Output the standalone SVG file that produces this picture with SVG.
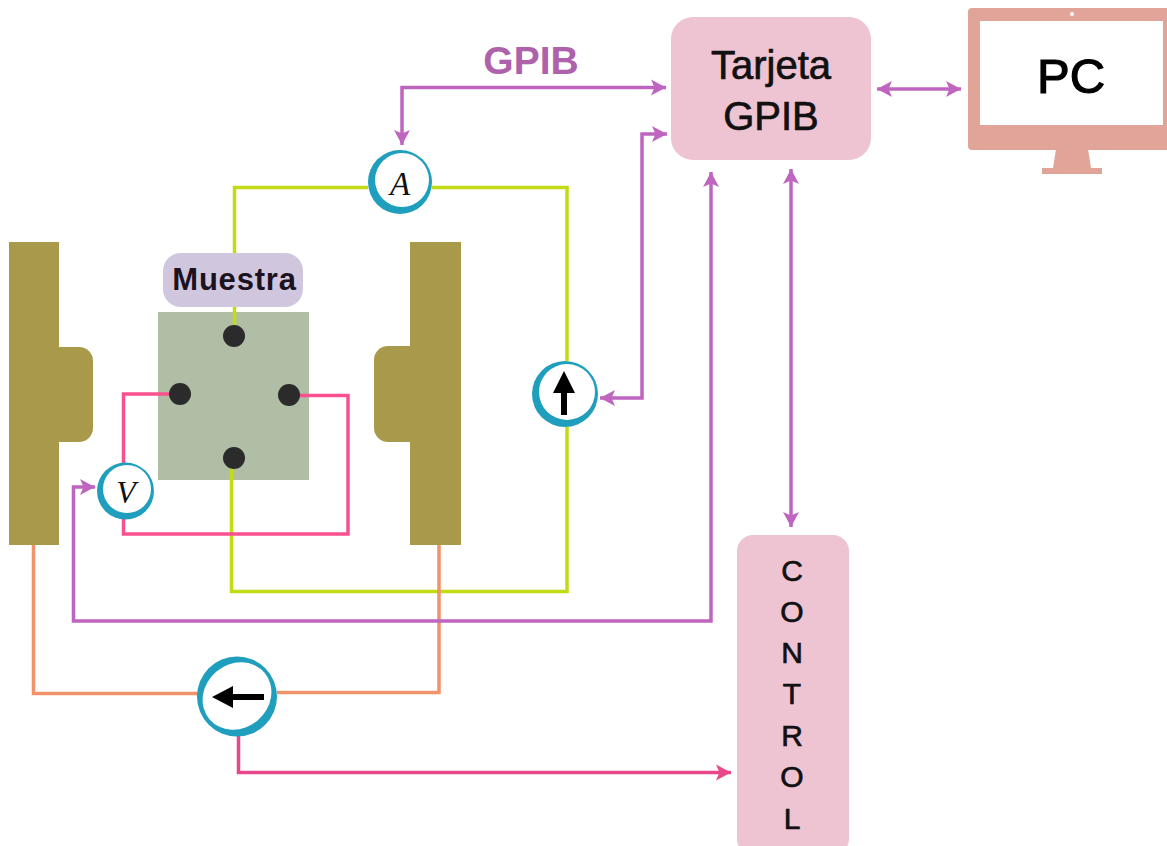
<svg xmlns="http://www.w3.org/2000/svg" width="1167" height="846" viewBox="0 0 1167 846">
<style>
.w{fill:none;stroke-width:3.5;stroke-linejoin:miter}
.g{stroke:#c2db12}.p{stroke:#f9518f}.o{stroke:#f0936a}.v{stroke:#bf65c0}.c{stroke:#e8488a}
.t{font-family:"Liberation Sans",Arial,sans-serif;text-anchor:middle}
.s{stroke:#111;stroke-width:.7}
.m{font-family:"Liberation Serif","Times New Roman",serif;font-style:italic;text-anchor:middle;fill:#111}
.bar{fill:#a99a4b}.dot{fill:#2b2b2b}.ring{fill:#1f9fbd}.in{fill:#fff}
.pink{fill:#eec4d3}
</style>
<defs>
<marker id="av" markerUnits="userSpaceOnUse" viewBox="0 0 16 18" refX="15" refY="9" markerWidth="16" markerHeight="18" orient="auto-start-reverse"><path d="M0 1L15 9L0 17L3.500 9Z" fill="#bf65c0"/></marker>
<marker id="ac" markerUnits="userSpaceOnUse" viewBox="0 0 16 18" refX="15" refY="9" markerWidth="16" markerHeight="18" orient="auto"><path d="M0 1L15 9L0 17L3.500 9Z" fill="#e8488a"/></marker>
</defs>
<g id="electrode-left"><rect class="bar" x="9" y="242" width="50" height="303"/><rect class="bar" x="40" y="347" width="53" height="95" rx="14"/></g>
<g id="electrode-right"><rect class="bar" x="410" y="242" width="51" height="303"/><rect class="bar" x="374" y="346" width="56" height="96" rx="14"/></g>
<rect id="sample" x="158" y="312" width="151" height="168" fill="#afbea5"/>
<g id="connectors">
<path class="w g" d="M234.500 253V187.500H368M432 187.500H567V361M567 427V591.500H231.500V465M234.500 306V330"/>
<path class="w p" d="M170 394H123.500V465M123.500 518V534H348V395.500H300"/>
<path class="w o" d="M33.500 545V693.500H198M277 692.500H439V545"/>
<path class="w c" marker-end="url(#ac)" d="M238.500 736V772.500H731"/>
<path class="w v" marker-start="url(#av)" marker-end="url(#av)" d="M666 87.500H402V145"/>
<path class="w v" marker-start="url(#av)" marker-end="url(#av)" d="M667 134H642V398H600"/>
<path class="w v" marker-start="url(#av)" marker-end="url(#av)" d="M95 487H73.500V621H711V172"/>
<path class="w v" marker-start="url(#av)" marker-end="url(#av)" d="M791 169V527"/>
<path class="w v" marker-start="url(#av)" marker-end="url(#av)" d="M877 89H961"/>
</g>
<g id="contacts">
<circle class="dot" cx="234" cy="336" r="11"/><circle class="dot" cx="180" cy="394" r="11"/><circle class="dot" cx="289" cy="395" r="11"/><circle class="dot" cx="234" cy="458" r="11"/>
</g>
<g id="muestra"><rect x="163" y="253" width="140" height="54" rx="18" fill="#d0c7de"/><text class="t" x="234.500" y="290" font-size="31" font-weight="700" letter-spacing=".8" fill="#1c1220">Muestra</text></g>
<g id="ammeter"><circle class="ring" cx="400" cy="182" r="32"/><circle class="in" cx="402" cy="180" r="27"/><text class="m" x="400" y="195" font-size="33">A</text></g>
<g id="voltmeter"><circle class="ring" cx="125.500" cy="491" r="28.500"/><circle class="in" cx="127" cy="489" r="24"/><text class="m" x="126" y="503" font-size="32">V</text></g>
<g id="source-up"><circle class="ring" cx="565" cy="394" r="33"/><circle class="in" cx="567" cy="392" r="28"/><path d="M561 415V393H553L564 371L575 393H567V415Z" fill="#000"/></g>
<g id="source-left"><circle class="ring" cx="237" cy="696.500" r="40"/><ellipse class="in" cx="237" cy="696" rx="36" ry="32" transform="rotate(-40 237 696)"/><path d="M264 694V700H233V708L212 697L233 686V694Z" fill="#000"/></g>
<g id="tarjeta"><rect class="pink" x="671" y="17" width="200" height="143" rx="22"/><text class="t s" x="771" y="79" font-size="40" fill="#111">Tarjeta</text><text class="t s" x="771" y="130" font-size="40" fill="#111">GPIB</text></g>
<g id="control"><rect class="pink" x="737" y="535" width="112" height="320" rx="16"/>
<text class="t s" font-size="30" fill="#111"><tspan x="792" y="581">C</tspan><tspan x="792" y="622">O</tspan><tspan x="792" y="663">N</tspan><tspan x="792" y="704">T</tspan><tspan x="792" y="746">R</tspan><tspan x="792" y="787">O</tspan><tspan x="792" y="829">L</tspan></text></g>
<g id="pc">
<path d="M1056 149H1088L1091 168H1102V174H1042V168H1053Z" fill="#e0a598"/>
<rect x="968" y="8" width="210" height="142" rx="4" fill="#e0a598"/>
<rect x="980" y="21" width="183" height="104" fill="#fff"/><circle cx="1072" cy="14" r="2" fill="#fff"/>
<text class="t" x="1071" y="93" font-size="49" fill="#000" stroke="#000" stroke-width="1.200">PC</text></g>
<text class="t" x="531" y="74" font-size="39" font-weight="700" fill="#ae62ab">GPIB</text>
</svg>
